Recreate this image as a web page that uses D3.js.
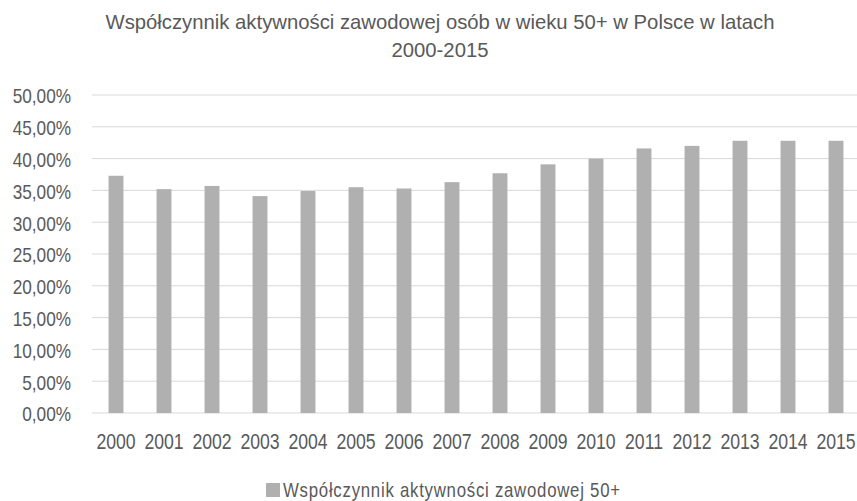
<!DOCTYPE html>
<html>
<head>
<meta charset="utf-8">
<script src="https://cdn.jsdelivr.net/npm/d3@7"></script>
<style>
  body { margin: 0; background: #fff; }
  svg text { font-family: "Liberation Sans", Arial, sans-serif; fill: #595959; }
</style>
</head>
<body>
<div id="chart"></div>
<script>
// values (share of people 50+ active in the labour market)
const years = ["2000", "2001", "2002", "2003", "2004", "2005", "2006", "2007",
  "2008", "2009", "2010", "2011", "2012", "2013", "2014", "2015"];
const activity = [37.3, 35.2, 35.7, 34.1, 34.9, 35.5, 35.3, 36.3,
  37.7, 39.1, 40.0, 41.6, 42.0, 42.8, 42.8, 42.8];
const yTicks = [0, 5, 10, 15, 20, 25, 30, 35, 40, 45, 50];
const titleLines = ["Współczynnik aktywności zawodowej osób w wieku 50+ w Polsce w latach", "2000-2015"];
const seriesName = "Współczynnik aktywności zawodowej 50+";

// no narrow font installed, so squeeze Liberation Sans sideways
var narrow = "scale(0.82,1)";

var width = 857, height = 501;
var margin = { top: 95, right: -3, bottom: 88, left: 92 };
var w = width - margin.left - margin.right,
    h = height - margin.top - margin.bottom;

var svg = d3.select("#chart").append("svg")
    .attr("width", width)
    .attr("height", height);

var g = svg.append("g")
    .attr("transform", "translate(" + margin.left + "," + margin.top + ")");

var x = d3.scaleBand()
    .domain(years)
    .range([0, w])
    .paddingInner(0.69)
    .paddingOuter(0.345);

var y = d3.scaleLinear()
    .domain([0, 50])
    .range([h, 0]);

// gridlines
g.append("g")
    .selectAll("line")
    .data(yTicks)
    .enter()
    .append("line")
    .attr("x1", 0)
    .attr("x2", w)
    .attr("y1", d => y(d))
    .attr("y2", d => y(d))
    .attr("stroke", "#d9d9d9")
    .attr("stroke-width", 1);

// bars
g.append("g")
    .selectAll("rect")
    .data(activity)
    .enter()
    .append("rect")
    .attr("x", (d, i) => x(years[i]))
    .attr("y", d => y(d))
    .attr("width", x.bandwidth())
    .attr("height", d => h - y(d))
    .attr("fill", "#b0b0b0");

// y axis labels
var yAxis = g.append("g")
    .attr("transform", "translate(-21,0)")
    .call(d3.axisLeft(y).tickValues(yTicks).tickSize(0).tickPadding(0)
        .tickFormat(d => d3.format(".2f")(d).replace(".", ",") + "%"));
yAxis.select(".domain").remove();
yAxis.selectAll("text")
    .attr("x", 0)
    .attr("dy", "0.38em")
    .attr("transform", narrow)
    .style("font-size", "21px");

// x axis labels
var xAxis = g.append("g")
    .attr("transform", "translate(0," + h + ")")
    .call(d3.axisBottom(x).tickSize(0).tickPadding(0));
xAxis.select(".domain").remove();
xAxis.selectAll("text")
    .attr("y", 36)
    .attr("dy", 0)
    .attr("transform", narrow)
    .style("font-size", "21.5px");

// title
svg.append("g")
    .selectAll("text")
    .data(titleLines)
    .enter()
    .append("text")
    .attr("x", 440)
    .attr("y", (d, i) => 29 + i * 28)
    .attr("text-anchor", "middle")
    .style("font-size", "20.3px")
    .text(d => d);

// legend
var legend = svg.append("g").attr("transform", "translate(266,483)");
legend.append("rect")
    .attr("width", 14)
    .attr("height", 14)
    .attr("fill", "#b0b0b0");
legend.append("text")
    .attr("transform", "translate(17,14) " + narrow)
    .style("font-size", "20.5px")
    .style("letter-spacing", "0.9px")
    .text(seriesName);
</script>
</body>
</html>
